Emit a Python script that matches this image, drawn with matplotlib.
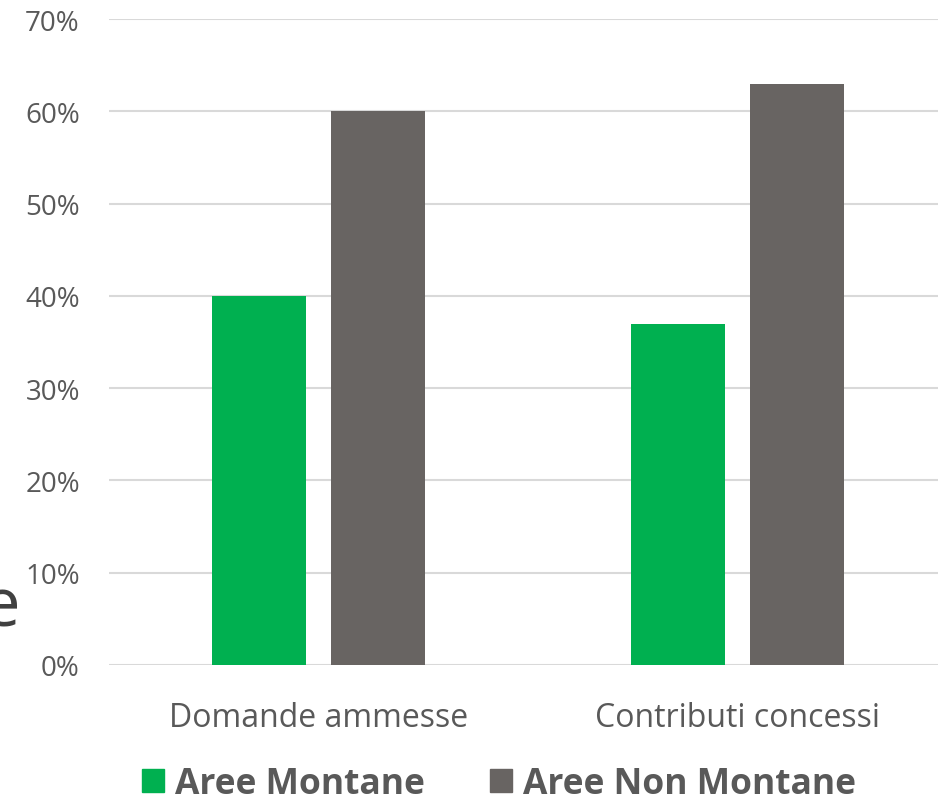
import numpy as np
import matplotlib
matplotlib.use("Agg")
import matplotlib.pyplot as plt
from matplotlib.patches import Patch

categories = ["Domande ammesse", "Contributi concessi"]
montane = [40, 37]
non_montane = [60, 63]
series_names = ["Aree Montane", "Aree Non Montane"]
yticks = [0, 10, 20, 30, 40, 50, 60, 70]

green = "#00b050"
grey = "#686462"
txt = "#595959"

plt.rcParams['font.family'] = ['Open Sans', 'DejaVu Sans']

W, H = 938, 804
fig = plt.figure(figsize=(W / 100, H / 100), dpi=100)
# axes box in pixels: left 109, right 938, top y=20 (70%), bottom y=666 (0%)
ax = fig.add_axes([109 / W, 1 - 666 / H, (938 - 109) / W, (666 - 20) / H])

x = np.arange(len(categories))
bw = 0.224
off = 0.1426
ax.bar(x - off, montane, bw, color=green, zorder=3)
ax.bar(x + off, non_montane, bw, color=grey, zorder=3)

ax.set_xlim(-0.5, 1.4785)
ax.set_ylim(0, 70)
ax.set_yticks(yticks)
ax.set_yticklabels([f"{v}%" for v in yticks])
ax.yaxis.grid(True, color="#d9d9d9", linewidth=1.5, zorder=0)
ax.set_xticks(x)
ax.set_xticklabels(categories)
for s in ax.spines.values():
    s.set_visible(False)
ax.tick_params(axis="both", length=0, labelcolor=txt)
ax.tick_params(axis="y", pad=21, labelsize=20)
ax.tick_params(axis="x", pad=26, labelsize=23)

handles = [Patch(color=green), Patch(color=grey)]
leg = fig.legend(handles, series_names, loc="center", bbox_to_anchor=(499 / W, 1 - 785 / H),
                 ncol=2, frameon=False, handlelength=0.62, handleheight=0.62,
                 handletextpad=0.3, columnspacing=1.85, borderpad=0.2,
                 prop={"weight": "bold", "size": 25.5})
for t in leg.get_texts():
    t.set_color(txt)

# stray cut-off letter at left edge
fig.text(-18 / W, 1 - 609 / H, "e", fontsize=48, color="#404040", va="center", ha="left")

fig.savefig("out.png", dpi=100)
